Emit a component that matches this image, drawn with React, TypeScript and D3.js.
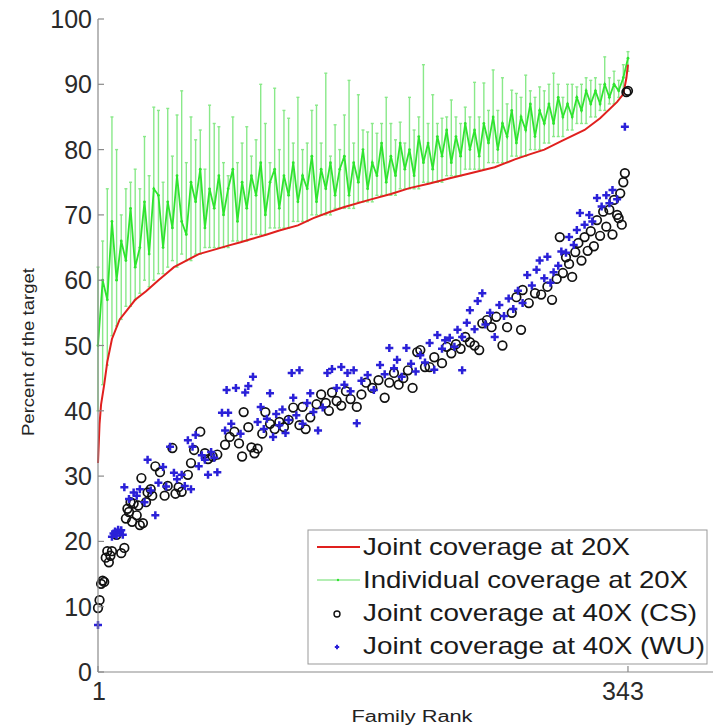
import React from 'react';
import * as d3 from 'd3';

// Joint coverage at 20X (sorted, drives the family rank)
const jointRanks = [1, 2, 3, 5, 7, 10, 15, 20, 25, 32, 40, 45, 50, 58, 66, 75, 85, 93, 100, 110, 118, 130, 140, 150, 160, 176, 190, 202, 215, 228, 240, 257, 270, 280, 289, 300, 315, 325, 336, 340, 342, 343];
const jointValues = [32, 38, 41, 44, 47.5, 51, 54, 55.5, 57, 58.3, 60, 61, 62, 63, 64, 64.6, 65.3, 65.8, 66.3, 67, 67.6, 68.4, 69.5, 70.4, 71.2, 72.3, 73.2, 74.1, 74.8, 75.6, 76.3, 77.3, 78.5, 79.3, 80, 81.3, 83, 84.8, 87.3, 88.5, 91, 93];

// Individual coverage at 20X, every third family: mean, min, max
const indivMean = [50, 60, 57, 69, 60, 66, 63, 71, 62, 65, 72, 64, 74, 73, 65, 72, 68, 76, 69, 67, 75, 72, 77, 68, 74, 71, 76, 70, 74, 77, 69, 75, 71, 76, 73, 78, 70, 75, 77, 71, 76, 73, 78, 72, 76, 74, 79, 72, 77, 74, 78, 73, 77, 79, 73, 78, 75, 80, 74, 78, 76, 81, 75, 79, 76, 81, 77, 80, 76, 82, 78, 81, 77, 82, 79, 83, 78, 82, 79, 84, 80, 83, 79, 84, 81, 85, 80, 84, 82, 86, 81, 85, 83, 87, 82, 86, 84, 87, 84, 88, 85, 87, 85, 88, 86, 89, 87, 89, 87, 90, 88, 90, 89, 91, 94];
const indivLow = [40, 44, 47, 51.5, 53, 54, 56, 56, 57, 58, 60, 59, 60, 61, 61, 62, 63, 62, 64, 63, 63, 64, 64, 65, 65, 65, 65, 65, 65, 66, 66, 66, 66, 67, 67, 67, 67, 68, 68, 68, 68, 68, 69, 69, 69, 69, 70, 70, 70, 70, 70, 71, 71, 71, 71, 71, 72, 72, 72, 72, 73, 73, 73, 73, 73, 74, 74, 74, 74, 74, 75, 75, 75, 75, 75, 76, 76, 76, 76, 77, 77, 77, 77, 77, 78, 78, 78, 78, 78, 79, 79, 79, 79, 80, 80, 80, 81, 81, 82, 82, 82, 83, 83, 84, 84, 84, 85, 85, 86, 86, 87, 87, 88, 89, 92];
const indivHigh = [62, 66, 74, 85, 80, 70, 74, 75, 77, 74, 82, 76, 86.5, 86, 75, 86.3, 79, 85.3, 89, 78, 85, 81.5, 83, 77, 86.8, 84, 83.5, 78, 76, 85, 78, 81, 83.5, 79, 81.5, 90, 84, 78, 89.4, 80, 86, 84.8, 81, 88, 80, 81, 86, 86.8, 81, 91.7, 79, 83.8, 80, 85.3, 90.6, 81, 88.4, 83, 82.7, 84, 82.5, 84, 88, 84, 81.5, 84.2, 81, 88, 83, 85, 93, 84, 88.4, 84, 84.8, 85, 87.6, 85, 84, 86.5, 85, 90.3, 85, 90.2, 86, 92.2, 86, 91, 87, 89.1, 88.6, 88, 91.4, 89, 88, 89.6, 89, 90, 91.7, 90, 88, 90, 90, 89.6, 90, 91, 90.6, 91, 90, 94.2, 91, 92, 90.6, 93, 95];

// Joint coverage at 40X (CS): [family rank, percent]
const csPoints: [number, number][] = [
  [1, 9.8], [2, 11], [3, 13.5], [4, 14], [5, 13.8], [6, 17.5], [7, 18.5], [8, 16.8], [9, 17.8], [10, 18.5],
  [13, 21], [16, 18.2], [18, 19], [19, 23.5], [20, 25], [21, 24.5], [22, 26], [23, 23], [24, 25.8], [26, 24],
  [27, 25.5], [28, 22.5], [30, 22.8], [29, 29.7], [32, 26], [33, 27.5], [35, 28], [36, 27], [38, 31.5], [41, 30.6],
  [44, 27], [46, 28.5], [49, 34.3], [51, 27.3], [53, 28.3], [55, 27.6], [59, 30.2], [61, 32], [63, 34], [67, 36.8],
  [70, 33.5], [72, 32.6], [75, 33], [78, 33.3], [83, 34.8], [86, 36], [89, 36.8], [92, 35], [94, 33], [95, 39.8],
  [98, 37.5], [100, 34.4], [102, 33.5], [104, 34.2], [107, 36.5], [109, 39.8], [112, 38], [115, 37.2], [118, 38.3], [121, 37.5],
  [124, 38.6], [127, 40.5], [131, 37.8], [133, 40.6], [135, 37.2], [138, 39], [142, 41], [145, 42.5], [148, 41.2], [150, 40],
  [152, 42.8], [155, 41.5], [158, 40.8], [161, 43], [164, 41.8], [168, 40.6], [171, 42.5], [174, 44.3], [178, 43.5], [182, 44.7],
  [186, 42], [189, 44.3], [192, 45.8], [195, 44], [198, 45], [201, 46.2], [204, 43.5], [207, 49], [209, 49.3], [212, 46.7],
  [215, 46.7], [218, 48.2], [223, 47.3], [226, 49.8], [229, 48.8], [232, 50.2], [235, 49.5], [238, 51.3], [241, 50.5], [244, 50],
  [247, 49.3], [249, 53.4], [252, 53.9], [255, 52.8], [258, 54.4], [262, 50], [265, 52.8], [268, 55], [271, 57.4], [274, 52.4],
  [275, 58.5], [279, 56.5], [283, 58], [287, 57.8], [291, 59], [294, 57], [297, 60.2], [299, 66.6], [301, 61.1], [303, 63.5],
  [305, 62.5], [307, 60.5], [309, 64.3], [311, 65.7], [313, 63], [315, 66.6], [317, 64.5], [319, 67.5], [321, 65.2], [323, 69.2],
  [325, 66.8], [327, 70.5], [329, 68.2], [331, 70.8], [333, 67], [334, 72.3], [336, 70], [337, 69.5], [338, 73.3], [339, 68.5],
  [340, 75], [341, 76.4], [342, 88.8], [343, 89],
];

// Joint coverage at 40X (WU): [family rank, percent]
const wuPoints: [number, number][] = [
  [1, 7.2], [10, 20.7], [11, 21.2], [12, 21.5], [13, 20.9], [14, 21.8], [15, 21.3], [16, 21.7], [17, 21], [18, 28.3],
  [21, 26.5], [24, 27.5], [26, 27], [28, 28], [31, 26], [33, 32.5], [35, 27.8], [38, 24], [40, 29], [43, 31.4],
  [45, 28.4], [47.5, 34.5], [50, 30.5], [52, 29.5], [55, 30.2], [57, 28.5], [59, 35.5], [61, 28], [62, 34.5], [64, 36.3],
  [66, 31.5], [68, 33.2], [70, 32.5], [72, 30.2], [74, 33.7], [76, 32.8], [78, 30.6], [81, 39.7], [83, 37], [85, 39.7],
  [84, 43.2], [87, 38], [90, 43.5], [93, 36.5], [96, 42.8], [98, 43.8], [101, 45.2], [104, 38.3], [106, 40.6], [108, 37.2],
  [110, 38.8], [112, 42.7], [114, 36], [116, 39.5], [118, 37.8], [120, 40.2], [122, 36.6], [124, 38.6], [126, 45.8], [127, 42],
  [129, 39.3], [131, 46.2], [133, 38], [136, 41.2], [138, 42.7], [140, 39.8], [143, 37], [146, 40.5], [149, 45.8], [152, 46.4],
  [155, 43.5], [158, 46.7], [160, 44], [162, 45.8], [164, 43], [166, 46.2], [168, 38.1], [171, 44.6], [175, 45.5], [179, 43.2],
  [183, 47], [186, 45.6], [189, 49.6], [192, 46.5], [194, 47.8], [197, 45.2], [200, 49.6], [203, 47.2], [206, 46], [209, 48.5],
  [212, 47.4], [215, 50.4], [218, 46.3], [220, 51.6], [223, 49.5], [225, 50.8], [228, 51.2], [231, 49.8], [233, 52.4], [236, 51.3],
  [236, 46.2], [239, 53.5], [241, 55.4], [244, 52.5], [246, 56.8], [249, 58], [251, 53.2], [254, 55], [257, 51.3], [260, 56.2],
  [263, 54.5], [266, 57.2], [269, 55.6], [272, 58.4], [275, 56.5], [278, 60.8], [281, 59.2], [284, 61.6], [286, 63], [289, 60.3],
  [291, 63.6], [293, 59.6], [295, 61.2], [298, 62.2], [300, 64.4], [303, 64.2], [305, 66.6], [308, 65.4], [310, 67.7], [312, 70.3],
  [315, 68.5], [318, 70], [320, 69], [323, 72.6], [326, 71.3], [329, 73], [331, 71.8], [333, 73.8], [336, 72.4], [341, 83.5],
];

const yTicks = [0, 10, 20, 30, 40, 50, 60, 70, 80, 90, 100];
const xTicks = [1, 343];
const legendLabels = [
  'Joint coverage at 20X',
  'Individual coverage at 20X',
  'Joint coverage at 40X (CS)',
  'Joint coverage at 40X (WU)',
];
const legendWidths = [267, 325, 334, 342];

const font = '"Liberation Sans", Arial, Helvetica, sans-serif';
const green = '#2fe42f';
const red = '#e0201e';
const blue = '#2a20d8';

const plus = (cx: number, cy: number, s: number) =>
  `M${cx - s},${cy}H${cx + s}M${cx},${cy - s}V${cy + s}`;

export default function App() {
  const x = d3.scaleLinear().domain([1, 400]).range([98, 716.3]);
  const y = d3.scaleLinear().domain([0, 100]).range([672, 19]);
  const indivRanks = d3.range(1, 344, 3);

  const meanLine = d3.line<number>()
    .x((_, i) => x(indivRanks[i]))
    .y(d => y(d));
  const jointLine = d3.line<number>()
    .x((_, i) => x(jointRanks[i]))
    .y(d => y(d));

  const legendX = 308, legendY = 530;

  return (
    <div style={{ position: 'absolute', left: 0, top: 0 }}>
      <svg width={713} height={727} style={{ display: 'block', background: '#fff' }} fontFamily={font}>
        {/* individual coverage error bars */}
        <g stroke="#62e262" strokeWidth={1.4} opacity={0.75}>
          {indivRanks.map((r, i) => (
            <g key={i}>
              <line x1={x(r)} x2={x(r)} y1={y(indivLow[i])} y2={y(indivHigh[i])} />
              <line x1={x(r) - 1.5} x2={x(r) + 1.5} y1={y(indivLow[i])} y2={y(indivLow[i])} />
              <line x1={x(r) - 1.5} x2={x(r) + 1.5} y1={y(indivHigh[i])} y2={y(indivHigh[i])} />
            </g>
          ))}
        </g>
        <path d={meanLine(indivMean) || ''} fill="none" stroke={green} strokeWidth={1.8} />
        <g fill={green}>
          {indivRanks.map((r, i) => (
            <circle key={i} cx={x(r)} cy={y(indivMean[i])} r={1.4} />
          ))}
        </g>

        {/* joint coverage at 20X */}
        <path d={jointLine(jointValues) || ''} fill="none" stroke={red} strokeWidth={2} />

        {/* CS circles */}
        <g fill="none" stroke="#111" strokeWidth={1.7}>
          {csPoints.map(([r, v], i) => (
            <circle key={i} cx={x(r)} cy={y(v)} r={4.3} />
          ))}
        </g>

        {/* WU plus markers */}
        <g fill="none" stroke={blue} strokeWidth={2.5}>
          {wuPoints.map(([r, v], i) => (
            <path key={i} d={plus(x(r), y(v), 4)} />
          ))}
        </g>

        {/* axes */}
        <g stroke="#8a8a8a" strokeWidth={1.2} fill="none">
          <line x1={98} x2={98} y1={y(100)} y2={y(0)} />
          <line x1={98} x2={713} y1={y(0)} y2={y(0)} />
          {yTicks.map(t => (
            <line key={t} x1={98} x2={104} y1={y(t)} y2={y(t)} />
          ))}
          {xTicks.map(t => (
            <line key={t} x1={x(t)} x2={x(t)} y1={y(0)} y2={y(0) - 6} />
          ))}
        </g>
        <g fill="#2a2a2a" fontSize={25} textAnchor="end">
          {yTicks.map(t => (
            <text key={t} x={92} y={y(t) + 9}>{t}</text>
          ))}
        </g>
        <g fill="#2a2a2a" fontSize={25} textAnchor="middle">
          {xTicks.map(t => (
            <text key={t} x={t === 1 ? x(t) + 1 : x(t) - 5} y={700}>{t}</text>
          ))}
        </g>
        <text x={412} y={722} fontSize={16} textAnchor="middle" fill="#222"
          textLength={121} lengthAdjust="spacingAndGlyphs">Family Rank</text>
        <text transform="translate(34,352) rotate(-90)" fontSize={16} textAnchor="middle" fill="#222"
          textLength={168} lengthAdjust="spacingAndGlyphs">Percent of the target</text>

        {/* legend */}
        <rect x={legendX} y={legendY} width={399} height={134} fill="#fff" stroke="#999" strokeWidth={1} />
        <line x1={317} x2={360} y1={547} y2={547} stroke={red} strokeWidth={2} />
        <line x1={317} x2={360} y1={580} y2={580} stroke="#9be89b" strokeWidth={1.5} />
        <circle cx={338} cy={580} r={1.2} fill={green} />
        <circle cx={337} cy={614} r={3} fill="none" stroke="#111" strokeWidth={1.4} />
        <path d={plus(337, 647, 2.2)} stroke={blue} strokeWidth={2} fill="none" />
        <g fill="#1a1a1a" fontSize={24}>
          {legendLabels.map((l, i) => (
            <text key={l} x={363} y={555 + i * 33} textLength={legendWidths[i]} lengthAdjust="spacingAndGlyphs">{l}</text>
          ))}
        </g>
      </svg>
    </div>
  );
}
